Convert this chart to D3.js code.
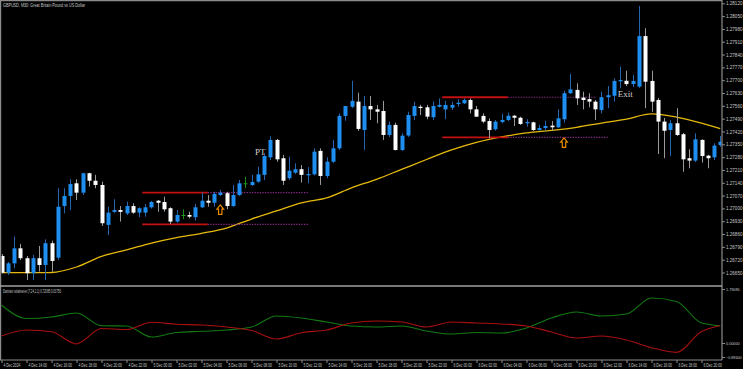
<!DOCTYPE html>
<html>
<head>
<meta charset="utf-8">
<script src="https://cdn.jsdelivr.net/npm/d3@7"></script>
<style>
  html, body { margin: 0; padding: 0; background: #000; }
  svg { display: block; }
</style>
</head>
<body>
<svg id="chart" width="743" height="369"></svg>
<script>
// GBPUSD M30, 4 Dec 12:00 -> 6 Dec 21:30, one entry per bar
const opens = [1.26740,1.26649,1.26700,1.26782,1.26728,1.26646,1.26728,1.26691,1.26810,1.26731,
  1.27013,1.27068,1.27137,1.27086,1.27192,1.27151,1.27128,1.26910,1.26981,1.26991,
  1.26973,1.27013,1.26977,1.26977,1.27006,1.27042,1.27035,1.27001,1.26928,1.26964,
  1.26964,1.26952,1.27006,1.27042,1.27031,1.27073,1.27083,1.27013,1.27073,1.27137,
  1.27128,1.27146,1.27183,1.27279,1.27374,1.27274,1.27165,1.27195,1.27214,1.27181,
  1.27186,1.27314,1.27177,1.27255,1.27328,1.27505,1.27555,1.27583,1.27428,1.27559,
  1.27541,1.27532,1.27401,1.27456,1.27319,1.27398,1.27505,1.27555,1.27552,1.27498,
  1.27555,1.27541,1.27550,1.27570,1.27574,1.27592,1.27541,1.27505,1.27477,1.27432,
  1.27472,1.27483,1.27506,1.27495,1.27465,1.27470,1.27428,1.27439,1.27452,1.27443,
  1.27487,1.27629,1.27647,1.27605,1.27597,1.27583,1.27537,1.27607,1.27615,1.27694,
  1.27697,1.27679,1.27665,1.27941,1.27696,1.27592,1.27474,1.27428,1.27465,1.27405,
  1.27274,1.27261,1.27374,1.27288,1.27279,1.27346];
const highs = [1.26751,1.26708,1.26846,1.26806,1.26740,1.26746,1.26795,1.26831,1.26824,1.27110,
  1.27110,1.27159,1.27159,1.27195,1.27195,1.27183,1.27146,1.27009,1.27050,1.27013,
  1.27037,1.27028,1.27006,1.27024,1.27041,1.27046,1.27064,1.27006,1.26991,1.26995,
  1.26982,1.27024,1.27086,1.27073,1.27091,1.27101,1.27091,1.27128,1.27155,1.27173,
  1.27183,1.27228,1.27301,1.27395,1.27379,1.27292,1.27282,1.27246,1.27237,1.27225,
  1.27328,1.27328,1.27279,1.27374,1.27519,1.27559,1.27697,1.27632,1.27614,1.27614,
  1.27565,1.27587,1.27474,1.27468,1.27410,1.27528,1.27583,1.27565,1.27565,1.27583,
  1.27601,1.27588,1.27583,1.27596,1.27601,1.27601,1.27559,1.27519,1.27492,1.27483,
  1.27516,1.27523,1.27510,1.27501,1.27487,1.27474,1.27456,1.27479,1.27477,1.27541,
  1.27643,1.27734,1.27683,1.27637,1.27629,1.27592,1.27637,1.27668,1.27710,1.27774,
  1.27752,1.27729,1.28105,1.27984,1.27752,1.27603,1.27494,1.27483,1.27547,1.27412,
  1.27323,1.27410,1.27377,1.27292,1.27356,1.27395];
const lows = [1.26645,1.26637,1.26673,1.26718,1.26609,1.26609,1.26655,1.26609,1.26655,1.26718,
  1.26973,1.26991,1.27046,1.27073,1.27119,1.27110,1.26904,1.26855,1.26975,1.26928,
  1.26964,1.26970,1.26952,1.26955,1.26999,1.26982,1.26982,1.26915,1.26922,1.26941,
  1.26946,1.26933,1.27002,1.27009,1.27009,1.27068,1.26995,1.27008,1.27068,1.27110,
  1.27122,1.27139,1.27155,1.27264,1.27255,1.27128,1.27155,1.27188,1.27141,1.27137,
  1.27180,1.27128,1.27165,1.27248,1.27319,1.27479,1.27548,1.27423,1.27319,1.27483,
  1.27465,1.27374,1.27390,1.27316,1.27314,1.27390,1.27483,1.27510,1.27487,1.27483,
  1.27551,1.27487,1.27537,1.27555,1.27570,1.27519,1.27499,1.27465,1.27383,1.27424,
  1.27465,1.27477,1.27450,1.27456,1.27446,1.27423,1.27424,1.27424,1.27424,1.27439,
  1.27468,1.27625,1.27565,1.27541,1.27552,1.27483,1.27519,1.27547,1.27583,1.27656,
  1.27668,1.27663,1.27658,1.27547,1.27528,1.27297,1.27274,1.27286,1.27395,1.27200,
  1.27219,1.27253,1.27250,1.27219,1.27264,1.27337];
const closes = [1.26649,1.26700,1.26782,1.26728,1.26646,1.26728,1.26691,1.26810,1.26713,1.27009,
  1.27068,1.27133,1.27086,1.27192,1.27151,1.27128,1.26919,1.26977,1.26991,1.26981,
  1.27013,1.26977,1.27001,1.27006,1.27035,1.27031,1.26995,1.26928,1.26964,1.26964,
  1.26955,1.27006,1.27042,1.27031,1.27079,1.27086,1.27013,1.27073,1.27137,1.27137,
  1.27144,1.27186,1.27286,1.27374,1.27268,1.27151,1.27206,1.27214,1.27183,1.27188,
  1.27310,1.27177,1.27255,1.27328,1.27505,1.27559,1.27587,1.27434,1.27559,1.27541,
  1.27528,1.27401,1.27456,1.27319,1.27397,1.27510,1.27559,1.27548,1.27501,1.27559,
  1.27565,1.27565,1.27565,1.27577,1.27592,1.27541,1.27501,1.27474,1.27428,1.27474,
  1.27483,1.27506,1.27495,1.27461,1.27472,1.27428,1.27439,1.27450,1.27443,1.27492,
  1.27629,1.27650,1.27601,1.27592,1.27583,1.27541,1.27607,1.27618,1.27696,1.27701,
  1.27679,1.27696,1.27941,1.27692,1.27583,1.27474,1.27424,1.27465,1.27401,1.27268,
  1.27261,1.27377,1.27286,1.27274,1.27343,1.27364];

// moving average (yellow), sampled every 4 bars
const maBars = [0,4,8,12,16,20,24,28,32,36,40,44,48,52,56,60,64,68,72,76,80,84,88,92,96,100,104,108,112,115];
const maValues = [1.26649,1.26649,1.26650,1.26680,1.26738,1.26773,1.26811,1.26841,1.26864,1.26893,
  1.26942,1.26986,1.27030,1.27057,1.27112,1.27159,1.27213,1.27267,1.27319,1.27360,
  1.27390,1.27412,1.27426,1.27443,1.27466,1.27488,1.27516,1.27499,1.27466,1.27436];

// Damiani volatmeter lines, same sample bars
const volGreen = [1.2602,0.8125,0.8623,0.9949,0.5737,0.5638,0.1990,0.3482,0.3880,0.4311,
  0.5306,0.8954,0.8291,0.6964,0.5638,0.5306,0.5638,0.3980,0.2985,0.3482,
  0.3316,0.4975,0.8291,1.0281,0.8954,0.9618,1.4924,1.3763,0.6633,0.5737];
const volRed = [0.2321,0.4311,0.3748,-0.0597,0.4809,0.4477,0.6865,0.6202,0.5970,0.5306,
  0.4146,0.1327,0.3416,0.4311,0.6633,0.7296,0.6964,0.5306,0.6964,0.6633,
  0.6301,0.5638,0.3648,0.1658,0.2321,0.0995,-0.2987,-0.5973,0.3814,0.5737];

const priceTicks = d3.range(22).map(k => +(1.26650 + k * 0.0007).toFixed(5));
const volTicks = [1.79085, 0, -0.896];
const timeLabels = ["4 Dec 2024","4 Dec 14:00","4 Dec 16:00","4 Dec 18:00","4 Dec 20:00","4 Dec 22:00",
  "5 Dec 00:00","5 Dec 02:00","5 Dec 04:00","5 Dec 06:00","5 Dec 08:00","5 Dec 10:00",
  "5 Dec 12:00","5 Dec 14:00","5 Dec 16:00","5 Dec 18:00","5 Dec 20:00","5 Dec 22:00",
  "6 Dec 00:00","6 Dec 02:00","6 Dec 04:00","6 Dec 06:00","6 Dec 08:00","6 Dec 10:00",
  "6 Dec 12:00","6 Dec 14:00","6 Dec 16:00","6 Dec 18:00","6 Dec 20:00"];

// range boxes: solid from..to, dotted on to dotTo
const levels = [
  {from: 23, to: 33, dotTo: 49, price: 1.27086},
  {from: 23, to: 33, dotTo: 49, price: 1.26913},
  {from: 71, to: 81, dotTo: 95, price: 1.27607},
  {from: 71, to: 81, dotTo: 97, price: 1.27388}
];
const arrows = [{bar: 35, price: 1.27019}, {bar: 90, price: 1.27385}];
const notes = [{text: "PT", bar: 41.4, price: 1.27292}, {text: "Exit", bar: 99.8, price: 1.27608}];

const svg = d3.select("#chart");
const axisRight = 722;
const sepY = 286, bottomY = 360;
const grey = "#8c8c8c", txt = "#c8c8c8";

const x = d3.scaleLinear().domain([0, 115]).range([1.5, 720.25]);
const y = d3.scaleLinear().domain([1.26650, 1.28120]).range([272.5, 3.3]);
const yv = d3.scaleLinear().domain([-0.896, 0, 1.79085]).range([357, 343, 289]);

svg.append("rect").attr("width", 743).attr("height", 369).attr("fill", "#000");

let defs = svg.append("defs");
defs.append("clipPath").attr("id", "mainClip").append("rect")
    .attr("x", 1.5).attr("y", 1.5).attr("width", axisRight - 2).attr("height", sepY - 3);
defs.append("clipPath").attr("id", "volClip").append("rect")
    .attr("x", 1.5).attr("y", sepY + 1).attr("width", axisRight - 2).attr("height", bottomY - sepY - 1.5);

let main = svg.append("g").attr("clip-path", "url(#mainClip)");

// moving average
let maData = maBars.map((b, i) => ({bar: b, v: maValues[i]}));
main.append("path")
    .datum(maData)
    .attr("fill", "none")
    .attr("stroke", "#e6b90e")
    .attr("stroke-width", 1.3)
    .attr("d", d3.line().x(d => x(d.bar)).y(d => y(d.v)).curve(d3.curveMonotoneX));

// levels
levels.forEach(function(l) {
    main.append("line")
        .attr("x1", x(l.from) - 3).attr("x2", x(l.to))
        .attr("y1", y(l.price)).attr("y2", y(l.price))
        .attr("stroke", "#c41010").attr("stroke-width", 1.8);
    main.append("line")
        .attr("x1", x(l.to)).attr("x2", x(l.dotTo))
        .attr("y1", y(l.price)).attr("y2", y(l.price))
        .attr("stroke", "#8a2a8a").attr("stroke-width", 1.2)
        .attr("stroke-dasharray", "1.3,1.3");
});

// candles
let bars = opens.map((o, i) => ({i: i, o: o, h: highs[i], l: lows[i], c: closes[i]}));
function candleColor(d) {
    if (d.c > d.o) return "#1e8ff0";
    if (d.c < d.o) return "#ffffff";
    return "#1fa01f";
}
function wickColor(d) {
    if (d.c > d.o) return "#2466b0";
    if (d.c < d.o) return "#9a9a9a";
    return "#1a8a1a";
}
let candle = main.selectAll(".candle").data(bars).enter().append("g").attr("class", "candle");
candle.append("line")
    .attr("x1", d => Math.round(x(d.i)) + 0.5).attr("x2", d => Math.round(x(d.i)) + 0.5)
    .attr("y1", d => y(d.h)).attr("y2", d => y(d.l))
    .attr("stroke", wickColor).attr("stroke-width", 1);
candle.append("rect")
    .attr("x", d => Math.round(x(d.i)) - 1.5)
    .attr("width", 4)
    .attr("y", d => y(Math.max(d.o, d.c)))
    .attr("height", d => Math.max(1, y(Math.min(d.o, d.c)) - y(Math.max(d.o, d.c))))
    .attr("fill", candleColor);

// arrows
arrows.forEach(function(a) {
    main.append("path")
        .attr("transform", "translate(" + x(a.bar) + "," + y(a.price) + ")")
        .attr("d", "M0,0 L3.4,4.2 L1.7,4.2 L1.7,9.5 L-1.7,9.5 L-1.7,4.2 L-3.4,4.2 Z")
        .attr("fill", "none").attr("stroke", "#e88a00").attr("stroke-width", 1.2);
});

// text notes
notes.forEach(function(n) {
    main.append("text")
        .attr("x", x(n.bar)).attr("y", y(n.price))
        .attr("text-anchor", "middle")
        .attr("font-family", "Liberation Serif, serif")
        .attr("font-size", 9)
        .attr("fill", "#d0d0d0")
        .text(n.text);
});

// volatmeter panel
let vol = svg.append("g").attr("clip-path", "url(#volClip)");
let volLine = d3.line().x(d => x(d.bar)).y(d => yv(d.v)).curve(d3.curveMonotoneX);
vol.append("path")
    .datum(maBars.map((b, i) => ({bar: b, v: volGreen[i]})))
    .attr("fill", "none").attr("stroke", "#137a13").attr("stroke-width", 1.1)
    .attr("d", volLine);
vol.append("path")
    .datum(maBars.map((b, i) => ({bar: b, v: volRed[i]})))
    .attr("fill", "none").attr("stroke", "#a81010").attr("stroke-width", 1.1)
    .attr("d", volLine);

// frame
let frame = svg.append("g").attr("stroke", grey).attr("stroke-width", 1.2);
frame.append("line").attr("x1", 0).attr("x2", axisRight).attr("y1", 0.6).attr("y2", 0.6);
frame.append("line").attr("x1", 0.6).attr("x2", 0.6).attr("y1", 0).attr("y2", bottomY);
frame.append("line").attr("x1", axisRight).attr("x2", axisRight).attr("y1", 0).attr("y2", bottomY);
frame.append("line").attr("x1", 0).attr("x2", axisRight).attr("y1", bottomY).attr("y2", bottomY);
frame.append("line").attr("x1", 0).attr("x2", axisRight).attr("y1", sepY).attr("y2", sepY)
    .attr("stroke-width", 1.6).attr("stroke", "#a0a0a0");

// small terminal-style labels, squeezed to the widths seen in the picture
function styleAxis(charWidth, size) {
    return function(g) {
        g.select(".domain").remove();
        g.selectAll(".tick line").attr("stroke", grey);
        g.selectAll(".tick text")
            .attr("fill", txt)
            .attr("font-family", "Liberation Sans, Arial, sans-serif")
            .attr("font-size", size)
            .attr("lengthAdjust", "spacingAndGlyphs")
            .attr("textLength", function() { return this.textContent.length * charWidth; });
    };
}

// price axis
svg.append("g")
    .attr("transform", "translate(" + axisRight + ",0)")
    .call(d3.axisRight(y).tickValues(priceTicks).tickSize(3).tickPadding(1).tickFormat(d3.format(".5f")))
    .call(styleAxis(2.35, 4.7));

// volatmeter axis
svg.append("g")
    .attr("transform", "translate(" + axisRight + ",0)")
    .call(d3.axisRight(yv).tickValues(volTicks).tickSize(3).tickPadding(1).tickFormat(d3.format(".5f")))
    .call(styleAxis(1.95, 4.2));

// time axis
let tAxis = svg.append("g")
    .attr("transform", "translate(0," + bottomY + ")")
    .call(d3.axisBottom(x).tickValues(d3.range(0, 113, 4)).tickSize(3).tickPadding(0.5)
        .tickFormat((d, i) => timeLabels[i]))
    .call(styleAxis(1.68, 4.8));
tAxis.selectAll(".tick text").attr("text-anchor", "start").attr("dx", 1.5);

// titles
svg.append("text")
    .attr("x", 3).attr("y", 7)
    .attr("font-family", "Liberation Sans, Arial, sans-serif").attr("font-size", 4.8)
    .attr("fill", txt)
    .attr("textLength", 82).attr("lengthAdjust", "spacingAndGlyphs")
    .text("GBPUSD, M30:  Great Britain Pound vs US Dollar");
svg.append("text")
    .attr("x", 3).attr("y", 292.5)
    .attr("font-family", "Liberation Sans, Arial, sans-serif").attr("font-size", 4.8)
    .attr("fill", txt)
    .attr("textLength", 58).attr("lengthAdjust", "spacingAndGlyphs")
    .text("Damiani volatmeter (7,24,1.1) 0.72085 0.03750");
</script>
</body>
</html>
